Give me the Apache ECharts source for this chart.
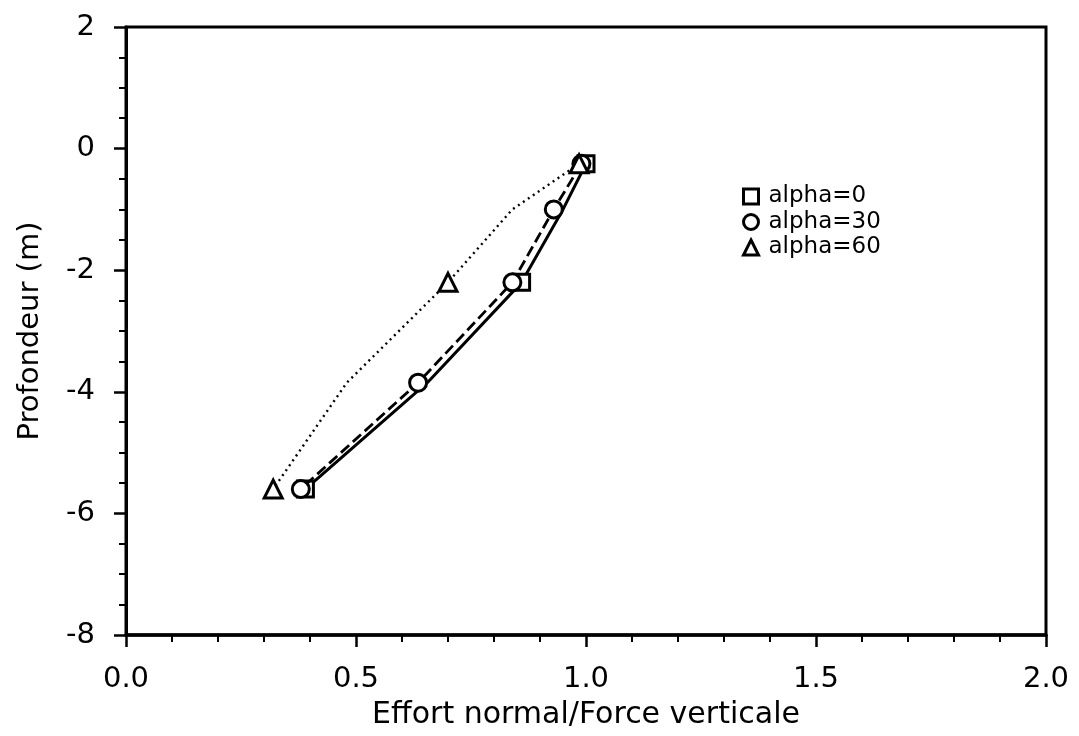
<!DOCTYPE html>
<html>
<head>
<meta charset="utf-8">
<script src="https://cdn.jsdelivr.net/npm/echarts@6/dist/echarts.min.js"></script>
<style>
  html, body { margin: 0; padding: 0; background: #fff; }
  #chart { width: 1079px; height: 736px; }
</style>
</head>
<body>
<div id="chart"></div>
<script>
// Depths (m) at which the normal force ratio was computed
const depths = [-0.25, -1.0, -2.2, -3.85, -5.6];

// Effort normal / Force verticale for each inclination
const alpha0  = [1.00, 0.95, 0.86, 0.655, 0.39];
const alpha30 = [0.99, 0.93, 0.84, 0.635, 0.38];
const alpha60 = [0.985, 0.84, 0.70, 0.48, 0.32];

// Points that carry a marker
const marks0  = [0, 2, 4];
const marks30 = [0, 1, 2, 3, 4];
const marks60 = [0, 2, 4];

const seriesNames = ['alpha=0', 'alpha=30', 'alpha=60'];
const xTicks = [0, 0.5, 1.0, 1.5, 2.0];
const yTicks = [-8, -6, -4, -2, 0, 2];

const FONT = '"DejaVu Sans", Verdana, sans-serif';

function build(xs, marks, sym) {
  return xs.map((x, i) => ({
    value: [x, depths[i]],
    symbol: marks.indexOf(i) >= 0 ? sym : 'none'
  }));
}

const markerStyle = { color: '#fff', borderColor: '#000', borderWidth: 3 };

const chart = echarts.init(document.getElementById('chart'), null, { renderer: 'canvas' });
chart.setOption({
  backgroundColor: '#fff',
  animation: false,
  grid: {
    left: 126, right: 33, top: 27, bottom: 101,
    show: true, borderColor: '#000', borderWidth: 3
  },
  legend: {
    orient: 'vertical',
    left: 737, top: 179,
    itemWidth: 15, itemHeight: 15, itemGap: 0.5,
    data: [
      { name: seriesNames[0], icon: 'rect' },
      { name: seriesNames[1], icon: 'circle' },
      { name: seriesNames[2], icon: 'triangle' }
    ],
    itemStyle: markerStyle,
    lineStyle: { opacity: 0 },
    textStyle: {
      fontFamily: FONT, fontSize: 23, lineHeight: 25, color: '#000',
      padding: [0, 0, 0, 5]
    }
  },
  xAxis: {
    type: 'value', min: xTicks[0], max: xTicks[xTicks.length - 1], interval: 0.5,
    name: 'Effort normal/Force verticale',
    nameLocation: 'middle', nameGap: 65,
    nameTextStyle: { fontFamily: FONT, fontSize: 30, color: '#000' },
    axisLine: { show: true, onZero: false, lineStyle: { color: '#000', width: 3.5 } },
    axisTick: { show: true, inside: false, length: 12, lineStyle: { color: '#000', width: 2.5 } },
    minorTick: { show: true, splitNumber: 5, length: 7, lineStyle: { color: '#000', width: 2 } },
    splitLine: { show: false },
    axisLabel: {
      fontFamily: FONT, fontSize: 29, color: '#000', margin: 30,
      formatter: v => v.toFixed(1)
    }
  },
  yAxis: {
    type: 'value', min: yTicks[0], max: yTicks[yTicks.length - 1], interval: 2,
    name: 'Profondeur (m)',
    nameLocation: 'middle', nameGap: 81, nameRotate: 90,
    nameTextStyle: { fontFamily: FONT, fontSize: 29, color: '#000' },
    axisLine: { show: true, onZero: false, lineStyle: { color: '#000', width: 3 } },
    axisTick: { show: true, inside: false, length: 12, lineStyle: { color: '#000', width: 2.5 } },
    minorTick: { show: true, splitNumber: 4, length: 7, lineStyle: { color: '#000', width: 2 } },
    splitLine: { show: false },
    axisLabel: { fontFamily: FONT, fontSize: 29, color: '#000', margin: 31 }
  },
  series: [
    {
      name: seriesNames[0], type: 'line', data: build(alpha0, marks0, 'rect'),
      symbolSize: 16, itemStyle: markerStyle,
      lineStyle: { color: '#000', width: 3, type: 'solid' }, z: 3
    },
    {
      name: seriesNames[1], type: 'line', data: build(alpha30, marks30, 'circle'),
      symbolSize: 17, itemStyle: markerStyle,
      lineStyle: { color: '#000', width: 2.8, type: [11, 5] }, z: 4
    },
    {
      name: seriesNames[2], type: 'line', data: build(alpha60, marks60, 'triangle'),
      symbolSize: 18, itemStyle: markerStyle,
      lineStyle: { color: '#000', width: 2.4, type: [2, 4] }, z: 5
    }
  ]
});
</script>
</body>
</html>
